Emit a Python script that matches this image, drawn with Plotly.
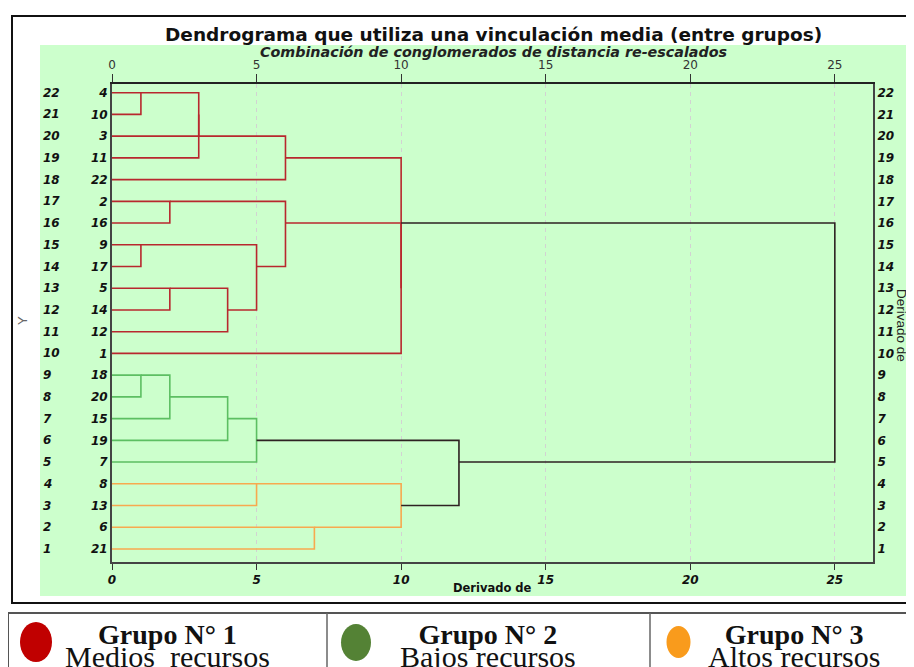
import math
import plotly.graph_objects as go

# ---------------- data ----------------
leaf_order = [4, 10, 3, 11, 22, 2, 16, 9, 17, 5, 14, 12, 1, 18, 20, 15, 19, 7, 8, 13, 6, 21]
row_numbers = list(range(22, 0, -1))

merge_name = ["A", "B", "C", "D", "E", "F", "G", "H", "I", "J", "K", "L",
              "N", "O", "P", "Q", "R", "S", "T", "U", "V"]
merge_a = ["4", "A", "B", "C", "2", "9", "5", "G", "F", "E", "J", "D",
           "18", "N", "O", "P", "8", "6", "R", "Q", "L"]
merge_b = ["10", "3", "11", "22", "16", "17", "14", "12", "H", "I", "1", "K",
           "20", "15", "19", "7", "13", "21", "S", "T", "U"]
merge_h = [1, 3, 3, 6, 2, 1, 2, 4, 5, 6, 10, 10,
           1, 2, 4, 5, 5, 7, 10, 12, 25]

group_cases = {
    1: [4, 10, 3, 11, 22, 2, 16, 9, 17, 5, 14, 12, 1],
    2: [18, 20, 15, 19, 7],
    3: [8, 13, 6, 21],
}
group_titles = ["Grupo N° 1", "Grupo N° 2", "Grupo N° 3"]
group_desc = ["Medios&nbsp; recursos", "Bajos recursos", "Altos recursos"]

x_ticks = [0, 5, 10, 15, 20, 25]

# ---------------- styles ----------------
line_colors = {1: "#b8282e", 2: "#5cbf62", 3: "#f7a94f", 0: "#2e2222"}
legend_colors = ["#c00000", "#548235", "#f99b1c"]

OFF = 8                      # page body margin
W, H = 914 - OFF, 667 - OFF
L, R, T, B = 112, 873, 84, 562   # plot area in window pixels


def px_x(px):
    return (px - L) / (R - L)


def px_y(py):
    return (B - py) / (B - T)


# ---------------- dendrogram geometry ----------------
pos = {str(c): r for c, r in zip(leaf_order, row_numbers)}
hgt = {str(c): 0 for c in leaf_order}
leaves = {str(c): {c} for c in leaf_order}
case_group = {c: g for g, cs in group_cases.items() for c in cs}

segs = {k: ([], []) for k in line_colors}
for name, a, b, h in zip(merge_name, merge_a, merge_b, merge_h):
    lv = leaves[a] | leaves[b]
    gs = {case_group[c] for c in lv}
    g = gs.pop() if len(gs) == 1 else 0
    xs, ys = segs[g]
    xs += [hgt[a], h, h, hgt[b], None]
    ys += [pos[a], pos[a], pos[b], pos[b], None]
    pos[name] = math.ceil((pos[a] + pos[b]) / 2)
    hgt[name] = h
    leaves[name] = lv

fig = go.Figure()
for g in [1, 2, 3, 0]:
    xs, ys = segs[g]
    fig.add_trace(go.Scatter(x=xs, y=ys, mode="lines",
                             line=dict(color=line_colors[g], width=1.6),
                             hoverinfo="skip", showlegend=False))
# dummy trace for the overlaying top / right axes
fig.add_trace(go.Scatter(x=[None], y=[None], xaxis="x2", yaxis="y2",
                         mode="markers", showlegend=False, hoverinfo="skip"))

xr = [0, 26.32]
yr = [0.4, 22.4]
fig.update_layout(
    width=W, height=H,
    margin=dict(l=L - OFF, r=W - (R - OFF), t=T - OFF, b=H - (B - OFF), pad=0),
    paper_bgcolor="white", plot_bgcolor="white",
    showlegend=False,
    xaxis=dict(range=xr, tickvals=x_ticks,
               ticktext=[f"<b><i>{v}</i></b>" for v in x_ticks],
               tickfont=dict(family="DejaVu Sans", size=12, color="#111"),
               ticks="outside", ticklen=6, tickcolor="#333", tickwidth=1,
               showline=True, linecolor="#444", linewidth=2,
               showgrid=True, gridcolor="#d2d2d2", griddash="4px,4px", gridwidth=1,
               zeroline=False, fixedrange=True),
    xaxis2=dict(range=xr, overlaying="x", side="top", anchor="y2",
                tickvals=x_ticks, ticktext=[str(v) for v in x_ticks],
                tickfont=dict(family="DejaVu Sans", size=12, color="#333"),
                ticks="outside", ticklen=8, tickcolor="#333", tickwidth=1,
                showline=True, linecolor="#222", linewidth=1.5,
                showgrid=False, zeroline=False),
    yaxis=dict(range=yr, tickvals=row_numbers,
               ticktext=[f"<b><i>{c}</i></b>" for c in leaf_order],
               tickfont=dict(family="DejaVu Sans", size=12, color="#111"),
               ticks="", showline=True, linecolor="#444", linewidth=2,
               showgrid=False, zeroline=False),
    yaxis2=dict(range=yr, overlaying="y", side="right", anchor="x2",
                tickvals=row_numbers,
                ticktext=[f"<b><i>{r}</i></b>" for r in row_numbers],
                tickfont=dict(family="DejaVu Sans", size=12, color="#111"),
                ticks="", showline=True, linecolor="#444", linewidth=2,
                showgrid=False, zeroline=False),
)

shapes = [
    # green chart background
    dict(type="rect", xref="paper", yref="paper", layer="below",
         x0=px_x(40), x1=px_x(920), y0=px_y(596), y1=px_y(45),
         fillcolor="#ccffcc", line=dict(width=0)),
    # outer chart frame
    dict(type="rect", xref="paper", yref="paper",
         x0=px_x(12), x1=px_x(930), y0=px_y(603), y1=px_y(16),
         fillcolor="rgba(0,0,0,0)", line=dict(color="#111", width=2)),
    # legend table
    dict(type="rect", xref="paper", yref="paper",
         x0=px_x(8), x1=px_x(930), y0=px_y(690), y1=px_y(613),
         fillcolor="rgba(0,0,0,0)", line=dict(color="#555", width=2)),
    dict(type="line", xref="paper", yref="paper",
         x0=px_x(327), x1=px_x(327), y0=px_y(690), y1=px_y(613),
         line=dict(color="#666", width=1.5)),
    dict(type="line", xref="paper", yref="paper",
         x0=px_x(650), x1=px_x(650), y0=px_y(690), y1=px_y(613),
         line=dict(color="#666", width=1.5)),
]
ell = [(36, 642, 16, 20), (356, 642.5, 15, 18.5), (678.5, 642, 12, 16)]
for i, (cx, cy, rx, ry) in enumerate(ell):
    shapes.append(dict(type="circle", xref="paper", yref="paper",
                       x0=px_x(cx - rx), x1=px_x(cx + rx),
                       y0=px_y(cy + ry), y1=px_y(cy - ry),
                       fillcolor=legend_colors[i], line=dict(width=0)))
fig.update_layout(shapes=shapes)

ann = []
ann.append(dict(text="<b>Dendrograma que utiliza una vinculación media (entre grupos)</b>",
                xref="paper", yref="paper", x=px_x(493), y=px_y(35),
                showarrow=False, xanchor="center", yanchor="middle",
                font=dict(family="DejaVu Sans", size=18.5, color="#111")))
ann.append(dict(text="<b><i>Combinación de conglomerados de distancia re-escalados</i></b>",
                xref="paper", yref="paper", x=px_x(493), y=px_y(52),
                showarrow=False, xanchor="center", yanchor="middle",
                font=dict(family="DejaVu Sans", size=14.3, color="#222")))
ann.append(dict(text="<b>Derivado de</b>", xref="paper", yref="paper",
                x=px_x(492), y=px_y(588), showarrow=False,
                xanchor="center", yanchor="middle",
                font=dict(family="DejaVu Sans", size=11.5, color="#111")))
ann.append(dict(text="Derivado de", xref="paper", yref="paper",
                x=px_x(902), y=px_y(325), showarrow=False, textangle=90,
                xanchor="center", yanchor="middle",
                font=dict(family="Liberation Sans", size=13.5, color="#222")))
ann.append(dict(text="Y", xref="paper", yref="paper",
                x=px_x(22), y=px_y(321), showarrow=False, textangle=-90,
                xanchor="center", yanchor="middle",
                font=dict(family="Liberation Sans", size=13, color="#666")))
for r in row_numbers:
    ann.append(dict(text=f"<b><i>{r}</i></b>", xref="paper", yref="y",
                    x=px_x(41), y=r, showarrow=False,
                    xanchor="left", yanchor="middle",
                    font=dict(family="DejaVu Sans", size=12, color="#111")))
title_cx = [167, 488, 794]
for i in range(3):
    txt = (f"<b><span style='font-size:28px'>{group_titles[i]}</span></b><br>"
           f"<span style='font-size:30px'>{group_desc[i]}</span>")
    ann.append(dict(text=txt, xref="paper", yref="paper",
                    x=px_x(title_cx[i]), y=px_y(617), showarrow=False,
                    xanchor="center", yanchor="top", align="center",
                    font=dict(family="Liberation Serif", size=18, color="#111")))
fig.update_layout(annotations=ann)

fig.write_html("out.html")
